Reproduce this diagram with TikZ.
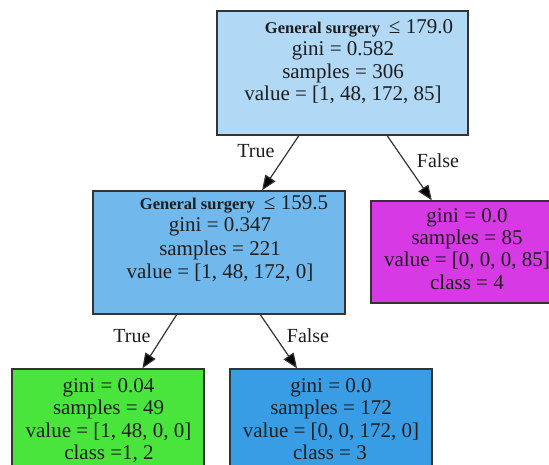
\documentclass[tikz,border=0pt]{standalone}
\usepackage{fontspec}
\setmainfont{Liberation Serif}
\usetikzlibrary{arrows.meta,calc}
\definecolor{rootfill}{HTML}{B1D8F5}
\definecolor{midfill}{HTML}{71B9EC}
\definecolor{greenfill}{HTML}{4AE53C}
\definecolor{bluefill}{HTML}{399DE5}
\definecolor{magfill}{HTML}{D739E5}
\definecolor{edgecol}{HTML}{333333}
\definecolor{txtcol}{HTML}{1E1E1E}
\begin{document}
\begin{tikzpicture}[x=1pt,y=-1pt,
  treebox/.style={draw=edgecol,line width=1.3pt,rectangle,inner sep=0pt},
  txt/.style={anchor=base,inner sep=0pt,text=txtcol,font=\fontsize{21}{24}\selectfont},
  elabel/.style={anchor=base,inner sep=0pt,text=txtcol,font=\fontsize{20}{24}\selectfont},
  conn/.style={draw=edgecol,line width=1.2pt,-{Triangle[length=15pt,width=12pt,fill=black]}}]
\useasboundingbox (0,0) rectangle (549,465);
\clip (0,0) rectangle (549,465);
\fill[white] (0,0) rectangle (549,465);
% boxes
\node[treebox,fill=rootfill,minimum width=251pt,minimum height=124pt] (root) at (342.5,73) {};
\node[treebox,fill=midfill,minimum width=252pt,minimum height=123pt] (mid) at (219,252.5) {};
\node[treebox,fill=magfill,minimum width=192pt,minimum height=102pt] (mag) at (467,252) {};
\node[treebox,fill=greenfill,minimum width=192pt,minimum height=110pt] (grn) at (108,424) {};
\node[treebox,fill=bluefill,minimum width=202pt,minimum height=110pt] (blu) at (331,424) {};
% root text
\node[txt] (r1) at (359,34) {{\fontsize{16.5}{18}\selectfont\bfseries General surgery}\hspace{9pt}≤ 179.0};
\node[txt] (r2) at (343,56) {gini = 0.582};
\node[txt] (r3) at (343,78.5) {samples = 306};
\node[txt] (r4) at (343,100.5) {value = [1, 48, 172, 85]};
% mid text
\node[txt] (m1) at (234,210) {{\fontsize{16.5}{18}\selectfont\bfseries General surgery}\hspace{9pt}≤ 159.5};
\node[txt] (m2) at (220,232) {gini = 0.347};
\node[txt] (m3) at (220,256) {samples = 221};
\node[txt] (m4) at (220,278) {value = [1, 48, 172, 0]};
% magenta text
\node[txt] (g1) at (467,223) {gini = 0.0};
\node[txt] (g2) at (467,245) {samples = 85};
\node[txt] (g3) at (467,267) {value = [0, 0, 0, 85]};
\node[txt] (g4) at (467,290) {class = 4};
% green text
\node[txt] (n1) at (108.5,392) {gini = 0.04};
\node[txt] (n2) at (108.5,414) {samples = 49};
\node[txt] (n3) at (108.5,437) {value = [1, 48, 0, 0]};
\node[txt] (n4) at (109,459) {class =1, 2};
% blue text
\node[txt] (b1) at (331,392) {gini = 0.0};
\node[txt] (b2) at (331,414) {samples = 172};
\node[txt] (b3) at (331,437) {value = [0, 0, 172, 0]};
\node[txt] (b4) at (330,459) {class = 3};
% connectors
\draw[conn] ($(root.south west)!0.327!(root.south east)$) -- ($(mid.north west)!0.67!(mid.north east)$);
\draw[conn] ($(root.south west)!0.677!(root.south east)$) -- ($(mag.north west)!0.318!(mag.north east)$);
\draw[conn] ($(mid.south west)!0.333!(mid.south east)$) -- ($(grn.north west)!0.678!(grn.north east)$);
\draw[conn] ($(mid.south west)!0.663!(mid.south east)$) -- ($(blu.north west)!0.333!(blu.north east)$);
% edge labels
\node[elabel] (t1) at (256,158) {True};
\node[elabel] (f1) at (438,168) {False};
\node[elabel] (t2) at (132,342) {True};
\node[elabel] (f2) at (308,342) {False};
\end{tikzpicture}
\end{document}
